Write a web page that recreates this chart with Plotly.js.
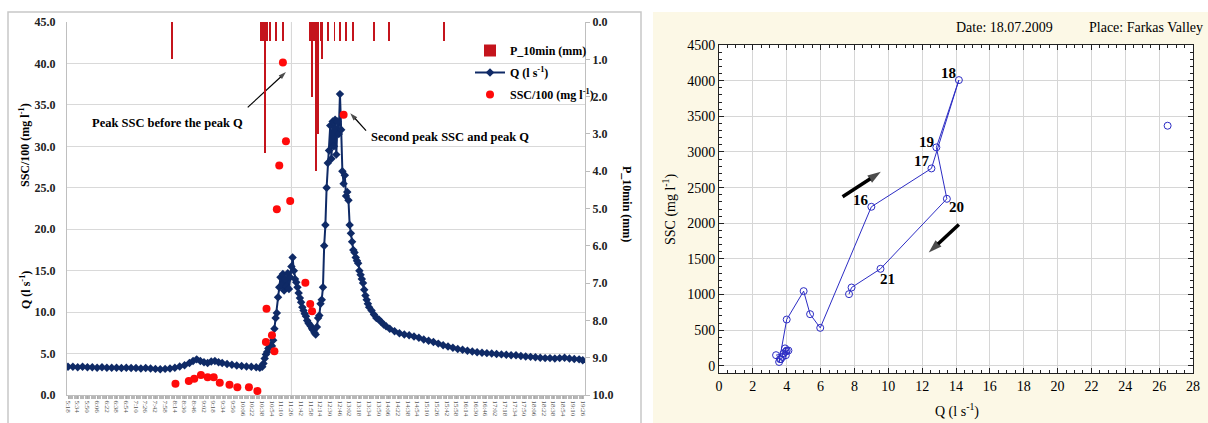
<!DOCTYPE html>
<html><head><meta charset="utf-8">
<script src="https://cdn.plot.ly/plotly-3.0.1.min.js"></script>
<style>html,body{margin:0;padding:0;background:#fff;}#chart{width:1208px;height:423px;}</style>
</head><body><div id="chart"></div>
<script>
const DAY = '2009-07-18 ';

// ---- Left chart: discharge Q (l/s) ----
const qTime = ["05:18","05:26","05:34","05:42","05:50","05:58","06:06","06:14","06:22","06:30","06:38","06:46","06:54","07:02","07:10","07:18","07:26","07:34","07:42","07:50","07:58","08:06","08:14","08:22","08:30","08:38","08:44","08:50","08:56","09:02","09:08","09:14","09:20","09:26","09:32","09:40","09:48","09:56","10:04","10:12","10:20","10:28","10:34","10:38",
"10:40","10:42","10:44","10:46","10:48","10:50","10:52","10:54","10:56","10:58","11:00","11:02","11:04","11:06","11:08","11:10","11:12","11:14","11:16","11:18","11:20","11:22","11:24","11:26","11:28","11:30","11:32","11:34","11:36","11:38","11:40","11:42","11:44","11:46","11:48","11:50","11:52","11:54","11:56","11:58","12:00","12:02","12:04","12:06","12:08","12:10","12:12","12:14","12:16","12:18","12:20","12:22","12:24","12:26","12:28","12:30","12:32","12:34","12:36","12:38","12:40","12:42","12:44","12:46","12:48","12:50","12:52","12:54","12:56","12:58","13:00","13:02","13:04","13:06","13:08","13:10","13:12","13:14","13:16","13:18","13:20","13:22","13:24","13:26","13:28","13:30","13:32","13:34","13:38","13:42","13:46","13:50","13:54","13:58","14:02","14:08","14:16","14:24","14:32","14:40","14:48","14:56","15:04","15:12","15:20","15:28","15:36","15:44","15:52","16:00","16:08","16:16","16:24","16:32","16:40","16:48","16:56","17:04","17:12","17:20","17:28","17:36","17:44","17:52","18:00","18:08","18:16","18:24","18:32","18:40","18:48","18:56","19:04","19:12","19:20","19:26"];
const qVal = [3.40,3.40,3.35,3.40,3.35,3.35,3.30,3.35,3.30,3.30,3.30,3.25,3.30,3.25,3.25,3.20,3.25,3.20,3.15,3.10,3.15,3.20,3.30,3.45,3.60,3.85,4.10,4.30,4.10,3.95,3.85,4.05,4.10,3.95,3.85,3.75,3.65,3.55,3.50,3.45,3.40,3.35,3.30,3.40,
3.8,4.4,4.9,5.2,5.6,5.8,6.0,5.9,6.6,8.0,9.3,9.9,11.8,13.0,14.2,13.2,14.6,12.6,14.0,13.1,14.7,12.8,14.2,15.5,16.6,15.0,14.0,13.6,13.0,12.3,11.7,11.2,10.6,10.2,9.8,9.5,9.0,8.7,8.5,8.3,8.0,7.8,7.5,7.3,8.2,9.3,9.6,11.0,11.5,13.0,18.0,20.5,25.0,28.0,29.5,32.5,28.5,33.0,30.0,33.2,29.0,33.0,31.5,36.3,32.0,27.0,25.5,26.5,24.0,24.5,23.5,20.5,19.5,18.5,17.5,17.2,16.6,16.2,15.9,15.0,14.5,14.0,13.5,12.7,12.0,11.5,11.0,10.6,10.2,9.7,9.3,9.1,8.8,8.5,8.3,8.0,7.7,7.45,7.3,7.2,7.05,6.9,6.7,6.55,6.4,6.2,6.0,5.85,5.7,5.55,5.45,5.35,5.25,5.15,5.1,5.05,5.0,4.95,4.9,4.85,4.8,4.8,4.7,4.65,4.6,4.55,4.5,4.45,4.45,4.4,4.45,4.5,4.4,4.35,4.3,4.2];

// ---- Left chart: SSC/100 (mg/l) ----
const sscTime = ["08:15","08:37","08:46","08:57","09:08","09:18","09:28","09:44","09:57","10:16","10:30","10:44","10:45","10:54","10:58","11:02","11:06","11:12","11:17","11:24","11:49","11:57","12:00","12:52"];
const sscVal = [1.36,1.69,1.97,2.41,2.13,2.13,1.49,1.25,0.92,0.92,0.49,6.4,10.4,7.2,5.27,22.4,27.7,40.1,30.6,23.4,13.55,10.98,10.1,33.8];

// ---- Left chart: 10-min precipitation (mm) ----
const rainTime = ["08:10","10:36","10:39","10:42","10:46","10:51","11:01","11:12","11:56","12:00","12:03","12:07","12:10","12:14","12:17","12:27","12:37","12:46","12:56","13:07","13:42","14:07","15:37"];
const rainVal = [1.0,0.5,0.5,3.5,0.5,0.5,0.5,0.5,0.5,2.0,0.5,4.0,3.0,0.5,1.0,0.5,0.5,0.5,0.5,0.5,0.5,0.5,0.5];

// ---- Left chart: annotation arrows (tail, tip) ----
const arrow1Time = ["10:14","11:17"], arrow1Val = [34.7,38.96];
const arrow2Time = ["13:29","13:03"], arrow2Val = [31.9,34.0];

// ---- Right chart: SSC vs Q hysteresis ----
const hystQ = [3.37,3.80,3.95,3.90,4.00,4.10,3.95,3.75,3.65,3.60,3.55,4.00,5.00,5.38,5.98,9.00,12.55,14.17,12.84,13.46,9.54,7.83,7.68];
const hystSSC = [150,170,200,245,215,215,150,125,95,95,55,650,1048,725,533,2231,2769,4008,3064,2343,1361,1099,1006];
const extraQ = [26.5];
const extraSSC = [3368];
const labelText = ['16','17','18','19','20','21'];
const labelQ = [8.41,12.02,13.57,12.24,14.01,9.96];
const labelSSC = [2325,2867,4111,3143,2231,1225];
const risingArrowQ = [7.3,9.56], risingArrowSSC = [2371,2722];
const fallingArrowQ = [14.17,12.39], fallingArrowSSC = [1983,1590];

const W = 1208, H = 423;
const px = v => v / W, py = v => 1 - v / H;
const SERIF = 'Liberation Serif, Times New Roman, serif';
const toX = t => DAY + t;

function arrowTrace(xs, ys, xa, ya, width, size) {
  return {type:'scatter', mode:'lines+markers', showlegend:false, hoverinfo:'skip',
    x:xs, y:ys, xaxis:xa, yaxis:ya, line:{color:'#000', width:width},
    marker:{symbol:['circle','arrow'], size:[0.1,size], color:'#000', angleref:'previous', line:{width:0}}};
}

const traces = [
  {type:'scatter', mode:'lines+markers', name:'<b>Q (l s<sup>-1</sup>)</b>', legendgroup:'g2', legendrank:2,
   x:qTime.map(toX), y:qVal, xaxis:'x', yaxis:'y',
   line:{color:'#0f2a66', width:2}, marker:{symbol:'diamond', size:6.5, color:'#0f2a66'}},
  {type:'scatter', mode:'markers', name:'<b>SSC/100 (mg l<sup>-1</sup>)</b>', legendgroup:'g3', legendrank:3,
   x:sscTime.map(toX), y:sscVal, xaxis:'x', yaxis:'y',
   marker:{symbol:'circle', size:8, color:'#ff0a0a'}},
  {type:'bar', name:'<b>P_10min (mm)</b>', legendgroup:'g1', legendrank:1,
   x:rainTime.map(toX), y:rainVal, xaxis:'x', yaxis:'y2', width:3.2*60000,
   marker:{color:'#c4141c', line:{width:0}}},
  arrowTrace(arrow1Time.map(toX), arrow1Val, 'x', 'y', 1.2, 8),
  arrowTrace(arrow2Time.map(toX), arrow2Val, 'x', 'y', 1.2, 8),
  {type:'scatter', mode:'lines+markers', showlegend:false, x:hystQ, y:hystSSC, xaxis:'x2', yaxis:'y3',
   line:{color:'#2c2cc4', width:1}, marker:{symbol:'circle-open', size:7, color:'#2c2cc4', line:{width:1}}},
  {type:'scatter', mode:'markers', showlegend:false, x:extraQ, y:extraSSC, xaxis:'x2', yaxis:'y3',
   marker:{symbol:'circle-open', size:7, color:'#2c2cc4', line:{width:1}}},
  arrowTrace(risingArrowQ, risingArrowSSC, 'x2', 'y3', 3.5, 14),
  arrowTrace(fallingArrowQ, fallingArrowSSC, 'x2', 'y3', 3.5, 14)
];

const A = (x, y, text, size, extra) => Object.assign({xref:'paper', yref:'paper', x:px(x), y:py(y), text:text,
  showarrow:false, xanchor:'center', yanchor:'middle', font:{size:size, family:SERIF, color:'#000'}}, extra || {});

const annotations = [
  A(25, 145, '<b>SSC/100 (mg l<sup>-1</sup>)</b>', 12, {textangle:-90}),
  A(25, 290, '<b>Q (l s<sup>-1</sup>)</b>', 12, {textangle:-90}),
  A(627, 204, '<b>P_10min (mm)</b>', 12, {textangle:90}),
  A(167, 123, '<b>Peak SSC before the peak Q</b>', 12.5),
  A(450, 137, '<b>Second peak SSC and peak Q</b>', 12.5),
  A(670, 209, 'SSC (mg l<sup>-1</sup>)', 14, {textangle:-90}),
  A(957, 410, 'Q (l s<sup>-1</sup>)', 14),
  A(954, 28, 'Date: 18.07.2009', 14, {xanchor:'left'}),
  A(1205, 28, 'Place: Farkas Valley', 14, {xanchor:'right'})
];
labelText.forEach((t,i) => annotations.push({xref:'x2', yref:'y3', x:labelQ[i], y:labelSSC[i], text:'<b>'+t+'</b>',
  showarrow:false, xanchor:'center', yanchor:'middle', font:{size:15, family:SERIF, color:'#000'}}));

const shapes = [
  {type:'rect', xref:'paper', yref:'paper', x0:px(653), x1:1, y0:-0.01, y1:py(12), fillcolor:'#fcf8e6', line:{width:0}, layer:'below'},
  {type:'rect', xref:'x2 domain', yref:'y3 domain', x0:0, x1:1, y0:0, y1:1, fillcolor:'#ffffff', line:{width:0}, layer:'below'},
  {type:'rect', xref:'paper', yref:'paper', x0:px(8), x1:px(641), y0:-0.05, y1:py(12), line:{color:'#c8c8c8', width:1.5}, fillcolor:'rgba(0,0,0,0)', layer:'below'},
  {type:'line', xref:'x', yref:'y domain', x0:toX('11:26'), x1:toX('11:26'), y0:0, y1:1, line:{color:'#d4d4d4', width:1}, layer:'below'}
];

const layout = {
  width:W, height:H, margin:{l:0, r:0, t:0, b:0},
  paper_bgcolor:'#ffffff', plot_bgcolor:'rgba(0,0,0,0)',
  font:{family:SERIF, color:'#000'},
  showlegend:true, bargap:0,
  legend:{x:px(470), y:py(36), xanchor:'left', yanchor:'top', traceorder:'grouped', tracegroupgap:3,
          font:{size:12, family:SERIF, color:'#000'}, bgcolor:'rgba(0,0,0,0)'},
  xaxis:{domain:[px(67), px(585)], anchor:'y', type:'date', range:[toX('05:16:20'), toX('19:29:40')],
         tick0:toX('05:18'), dtick:960000, tickformat:'%-H:%M', tickangle:90,
         tickfont:{size:7, color:'#555', family:SERIF}, ticks:'outside', ticklen:3, tickcolor:'#aaa',
         minor:{dtick:120000, ticks:'outside', ticklen:3, tickcolor:'#b8b8b8', showgrid:false},
         showgrid:false, showline:true, linecolor:'#bfbfbf', zeroline:false},
  yaxis:{domain:[py(395), py(22)], anchor:'x', range:[0,45], dtick:5, tickformat:'.1f',
         tickfont:{size:12, color:'#222', family:SERIF, weight:'bold'}, showgrid:true, gridcolor:'#d9d9d9',
         showline:true, linecolor:'#bfbfbf', zeroline:false, ticks:'', ticklabelstandoff:8},
  yaxis2:{overlaying:'y', side:'right', anchor:'x', range:[10,0], dtick:1, tickformat:'.1f',
          tickfont:{size:12, color:'#222', family:SERIF, weight:'bold'}, showgrid:false, showline:true,
          linecolor:'#bfbfbf', ticks:'outside', ticklen:4, tickcolor:'#bbb', zeroline:false},
  xaxis2:{domain:[px(719), px(1193)], anchor:'y3', range:[0,28], dtick:2, tick0:0,
          tickfont:{size:14, color:'#000', family:SERIF}, ticks:'inside', ticklen:5, tickcolor:'#222',
          minor:{dtick:0.5, ticks:'inside', ticklen:3, tickcolor:'#222', showgrid:false},
          showgrid:true, gridcolor:'#d6d6d6', showline:true, linecolor:'#222', mirror:'allticks', zeroline:false},
  yaxis3:{domain:[py(373), py(45)], anchor:'x2', range:[-100,4500], dtick:500, tick0:0,
          tickfont:{size:14, color:'#000', family:SERIF}, ticks:'inside', ticklen:5, tickcolor:'#222',
          minor:{dtick:100, ticks:'inside', ticklen:3, tickcolor:'#222', showgrid:false},
          showgrid:true, gridcolor:'#d6d6d6', showline:true, linecolor:'#222', mirror:'allticks', zeroline:false},
  annotations:annotations, shapes:shapes
};

Plotly.newPlot('chart', traces, layout, {displayModeBar:false, staticPlot:true});
</script>
</body></html>
